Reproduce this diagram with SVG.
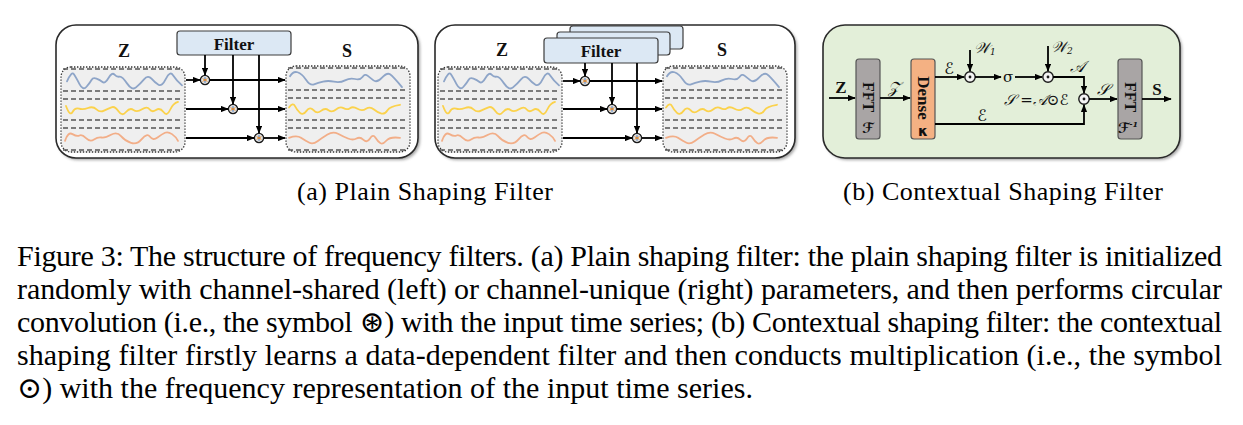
<svg xmlns="http://www.w3.org/2000/svg" xmlns:xlink="http://www.w3.org/1999/xlink" width="1243" height="425" viewBox="0 0 1243 425">
<style>
.outer{fill:#fff;stroke:#2a2a2a;stroke-width:1.6}
.outerg{fill:#e3efd9;stroke:#2a2a2a;stroke-width:1.6}
.shadow{fill:#555;opacity:.55}
.filt{fill:#dce8f4;stroke:#3c3c3c;stroke-width:1.2}
.series{fill:#efefef;stroke:#333;stroke-width:1.3;stroke-dasharray:1.4 1.6}
.dash{stroke:#555;stroke-width:1.5;stroke-dasharray:5 3;fill:none}
.conn{stroke:#000;stroke-width:1.8;fill:none;marker-end:url(#ah)}
.wv{fill:none;stroke-width:1.8;stroke-linejoin:round;stroke-linecap:round;vector-effect:non-scaling-stroke}
.wb{stroke:#8ea5c8}.wy{stroke:#fbd24c}.wo{stroke:#f2ae88}
.b{font-family:"Liberation Serif","Times New Roman",serif;font-weight:bold;fill:#111}
.m{font-family:"DejaVu Serif","DejaVu Sans",serif;fill:#111}
.cap{font-family:"Liberation Serif","Times New Roman","DejaVu Serif",serif;fill:#000}
.fft{fill:#a9a5a5;stroke:#555;stroke-width:1.2}
.dense{fill:#f4b183;stroke:#555;stroke-width:1.2}
</style>
<defs>
<marker id="ah" viewBox="0 0 10 8" refX="9" refY="4" markerWidth="4.6" markerHeight="3.7" orient="auto" markerUnits="strokeWidth"><path d="M0,0L10,4L0,8z" fill="#000"/></marker>
<filter id="blur" x="-5%" y="-5%" width="110%" height="115%"><feGaussianBlur stdDeviation="1.6"/></filter>
<g id="oconv"><circle r="4.6" fill="#e4e4e4" stroke="#1a1a1a" stroke-width="1.3"/><path d="M0,-2.8V2.8" stroke="#3f6fb0" stroke-width="1"/><path d="M-2.4,-1.4L2.4,1.4M-2.4,1.4L2.4,-1.4" stroke="#e0892f" stroke-width="1"/></g>
<g id="odot"><circle r="5.2" fill="#f4f4f4" stroke="#1a1a1a" stroke-width="1.4"/><circle r="1.4" fill="#1a1a1a"/></g>
<g id="inL">
<rect x="61" y="67" width="124" height="85" rx="10" class="series"/>
<path class="dash" d="M63,69H183M63,91H183M63,99H183M63,120H183M63,128H183M63,150H183"/>
<path class="wv wb" transform="translate(0,80) scale(1,1.35) translate(0,-80)" d="M67,81 Q71.7,73.3 73.9,75.7 Q76,78 79.5,83 Q83,88 86.5,85 Q90,82 91.5,80 Q93,78 96.5,79 Q100,80 102.5,81.5 Q105,83 108.5,78.5 Q112,74 114.5,76 Q117,78 119.5,77.5 Q122,77 127,82.5 Q132,88 136,85.5 Q140,83 144,79.5 Q148,76 151.5,79 Q155,82 158.5,83.5 Q162,85 166,79 Q170,73 173,76.5 Q176,80 182,84"/>
<path class="wv wy" transform="translate(0,110) scale(1,1.35) translate(0,-110)" d="M66,107 Q70,115 72.5,111.5 Q75,108 79,109 Q83,110 88,108.5 Q93,107 96.5,109.5 Q100,112 104,110.5 Q108,109 111.5,108 Q115,107 118.5,111 Q122,115 126,111.5 Q130,108 133.5,110 Q137,112 142,109.5 Q147,107 149.5,109.5 Q152,112 156,110 Q160,108 163.5,111.5 Q167,115 170,110 Q173,105 178,104"/>
<path class="wv wo" transform="translate(0,137.5) scale(1,1.35) translate(0,-137.5)" d="M65,140 Q68,133 72.5,135 Q77,137 79.5,136 Q82,135 86,138 Q90,141 94,139 Q98,137 101.5,137.5 Q105,138 111,135.5 Q117,133 121,136.5 Q125,140 131,141.5 Q137,143 142,138.5 Q147,134 150,137 Q153,140 157.5,137.5 Q162,135 165,134 Q168,133 172,135 Q176,137 178,140"/>
</g>
<g id="outR">
<rect x="286" y="66" width="124" height="86" rx="10" class="series"/>
<path class="dash" d="M288,68H408M288,90H408M288,98H408M288,120H408M288,128H408M288,150H408"/>
<path class="wv wb" transform="translate(0,79) scale(1,1.35) translate(0,-79)" d="M290,77 Q293,73 297.5,74 Q302,75 306,79.5 Q310,84 314,83 Q318,82 323,81 Q328,80 334,81 Q340,82 345,80 Q350,78 355,79 Q360,80 362.5,77.5 Q365,75 367.5,76.5 Q370,78 373.5,80 Q377,82 382,78 Q387,74 390,75.5 Q393,77 402,85"/>
<path class="wv wy" transform="translate(0,109.5) scale(1,1.35) translate(0,-109.5)" d="M289,108 Q293,104 295,107 Q297,110 300,112 Q303,114 306.5,110.5 Q310,107 313.5,110 Q317,113 321,110.5 Q325,108 328.5,110 Q332,112 336,109.5 Q340,107 343.5,108.5 Q347,110 350,108.5 Q353,107 357.5,109 Q362,111 366,109 Q370,107 374,109.5 Q378,112 381.5,112.5 Q385,113 387.5,110 Q390,107 400,106"/>
<path class="wv wo" transform="translate(0,138.5) scale(1,1.35) translate(0,-138.5)" d="M289,138 Q297,136 301,138 Q305,140 309,141.5 Q313,143 317.5,140.5 Q322,138 327.5,135.5 Q333,133 338,135 Q343,137 348,138.5 Q353,140 356.5,138.5 Q360,137 363.5,139.5 Q367,142 370,138.5 Q373,135 375.5,138 Q378,141 380.5,142 Q383,143 386.5,140 Q390,137 400,138"/>
</g>
</defs>

<!-- Panel (a) -->
<g id="panelA">
<rect x="58" y="27" width="362" height="133" rx="20" class="shadow" filter="url(#blur)"/>
<rect x="56" y="25" width="362" height="133" rx="20" class="outer"/>
</g>
<g id="a-filter"><rect x="177" y="31" width="114" height="24" rx="3" class="filt"/><text x="234" y="50" class="b" font-size="17" text-anchor="middle">Filter</text></g>
<g id="a-Z"><text x="124" y="57" class="b" font-size="18" text-anchor="middle">Z</text></g>
<g id="a-S"><text x="347" y="57" class="b" font-size="18" text-anchor="middle">S</text></g>
<g id="a-input"><use xlink:href="#inL"/></g>
<g id="a-output"><use xlink:href="#outR"/></g>

<!-- Panel (b) -->
<g id="panelB">
<rect x="437" y="27" width="360" height="133" rx="20" class="shadow" filter="url(#blur)"/>
<rect x="435" y="25" width="360" height="133" rx="20" class="outer"/>
</g>
<g id="b-filters">
<rect x="570" y="26" width="113" height="23" rx="3" class="filt"/>
<rect x="557" y="32" width="113" height="23" rx="3" class="filt"/>
<rect x="544" y="38" width="114" height="25" rx="3" class="filt"/>
<text x="601" y="57" class="b" font-size="17" text-anchor="middle">Filter</text>
</g>
<g id="b-Z"><text x="502" y="56" class="b" font-size="18" text-anchor="middle">Z</text></g>
<g id="b-S"><text x="722" y="56" class="b" font-size="18" text-anchor="middle">S</text></g>
<g id="b-input"><use xlink:href="#inL" transform="translate(377,0)"/></g>
<g id="b-output"><use xlink:href="#outR" transform="translate(377,0)"/></g>

<!-- Panel (c) contextual -->
<g id="panelC">
<rect x="825" y="27" width="357" height="133" rx="22" class="shadow" filter="url(#blur)"/>
<rect x="823" y="25" width="357" height="133" rx="22" class="outerg"/>
</g>
<g id="c-fft1"><rect x="856" y="59" width="24" height="80" rx="3" class="fft"/>
<text transform="translate(862.5,97) rotate(90)" class="b" font-size="16" text-anchor="middle">FFT</text>
<text x="868" y="133" class="m" font-size="14" font-weight="bold" font-style="italic" text-anchor="middle">ℱ</text></g>
<g id="c-dense"><rect x="911" y="59" width="24" height="80" rx="3" class="dense"/>
<text transform="translate(917.5,98) rotate(90)" class="b" font-size="17" text-anchor="middle">Dense</text>
<text x="923" y="136" font-family="'DejaVu Sans',sans-serif" font-weight="bold" font-size="14" text-anchor="middle" fill="#111">κ</text></g>
<g id="c-fft2"><rect x="1118" y="59" width="24" height="80" rx="3" class="fft"/>
<text transform="translate(1124.5,97) rotate(90)" class="b" font-size="16" text-anchor="middle">FFT</text>
<text x="1128" y="133" class="m" font-size="14" font-weight="bold" font-style="italic" text-anchor="middle">ℱ<tspan font-size="8" dy="-6">-1</tspan></text></g>
<g id="c-op1"><use xlink:href="#odot" x="970" y="77"/></g>
<g id="c-sigma"><text x="1008" y="82" class="m" font-size="15" text-anchor="middle">σ</text></g>
<g id="c-op2"><use xlink:href="#odot" x="1048" y="77"/></g>
<g id="c-op3"><use xlink:href="#odot" x="1084" y="99"/></g>
<g id="c-labels">
<text x="841" y="93" class="b" font-size="17" text-anchor="middle">Z</text>
<text x="894" y="93" class="m" font-size="16" font-style="italic" text-anchor="middle">𝒵</text>
<text x="949" y="74" class="m" font-size="16" font-style="italic" text-anchor="middle">ℰ</text>
<text x="974" y="53" class="m" font-size="15" font-style="italic">𝒲<tspan font-size="9" dy="2">1</tspan></text>
<text x="1051" y="52" class="m" font-size="15" font-style="italic">𝒲<tspan font-size="9" dy="2">2</tspan></text>
<text x="1077" y="72" class="m" font-size="16" font-style="italic" text-anchor="middle">𝒜</text>
<text x="1036" y="105" class="m" font-size="15" font-style="italic" text-anchor="middle">𝒮 =𝒜⊙ℰ</text>
<text x="982" y="121" class="m" font-size="16" font-style="italic" text-anchor="middle">ℰ</text>
<text x="1103" y="95" class="m" font-size="16" font-style="italic" text-anchor="middle">𝒮</text>
<text x="1157" y="95" class="b" font-size="17" text-anchor="middle">S</text>
</g>

<g id="a-ops"><use xlink:href="#oconv" x="205" y="80"/><use xlink:href="#oconv" x="233" y="109"/><use xlink:href="#oconv" x="259" y="138"/></g>
<g id="b-ops"><use xlink:href="#oconv" x="585" y="81"/><use xlink:href="#oconv" x="612" y="109"/><use xlink:href="#oconv" x="637" y="138"/></g>

<g id="connectors">
<path class="conn" d="M186,80H200"/>
<path class="conn" d="M210,80H285"/>
<path class="conn" d="M186,109H228"/>
<path class="conn" d="M238,109H285"/>
<path class="conn" d="M186,138H254"/>
<path class="conn" d="M264,138H285"/>
<path class="conn" d="M205,55V75"/>
<path class="conn" d="M233,55V104"/>
<path class="conn" d="M259,55V133"/>
<path class="conn" d="M563,81H580"/>
<path class="conn" d="M590,81H662"/>
<path class="conn" d="M563,109H607"/>
<path class="conn" d="M617,109H662"/>
<path class="conn" d="M563,138H632"/>
<path class="conn" d="M642,138H662"/>
<path class="conn" d="M585,63V76"/>
<path class="conn" d="M612,63V104"/>
<path class="conn" d="M637,63V133"/>
<path class="conn" d="M829,98H855"/>
<path class="conn" d="M880,98H910"/>
<path class="conn" d="M935,77H964"/>
<path class="conn" d="M970,50V71"/>
<path class="conn" d="M975,77H1001"/>
<path class="conn" d="M1015,77H1042"/>
<path class="conn" d="M1048,46V71"/>
<path class="conn" d="M1053,77H1084V93"/>
<path class="conn" d="M935,124H1084V105"/>
<path class="conn" d="M1089,99H1117"/>
<path class="conn" d="M1142,99H1171"/>
</g>

<g id="captions">
<text x="297" y="200" class="cap" font-size="26" textLength="256" lengthAdjust="spacing">(a) Plain Shaping Filter</text>
<text x="843" y="200" class="cap" font-size="26" textLength="320" lengthAdjust="spacing">(b) Contextual Shaping Filter</text>
<text x="17" y="266" class="cap" font-size="30" textLength="1205" lengthAdjust="spacing">Figure 3: The structure of frequency filters. (a) Plain shaping filter: the plain shaping filter is initialized</text>
<text x="17" y="299" class="cap" font-size="30" textLength="1205" lengthAdjust="spacing">randomly with channel-shared (left) or channel-unique (right) parameters, and then performs circular</text>
<text x="17" y="332" class="cap" font-size="30" textLength="1205" lengthAdjust="spacing">convolution (i.e., the symbol ⊛) with the input time series; (b) Contextual shaping filter: the contextual</text>
<text x="17" y="365" class="cap" font-size="30" textLength="1205" lengthAdjust="spacing">shaping filter firstly learns a data-dependent filter and then conducts multiplication (i.e., the symbol</text>
<text x="17" y="398" class="cap" font-size="30" textLength="736" lengthAdjust="spacing">⊙) with the frequency representation of the input time series.</text>
</g>
</svg>
